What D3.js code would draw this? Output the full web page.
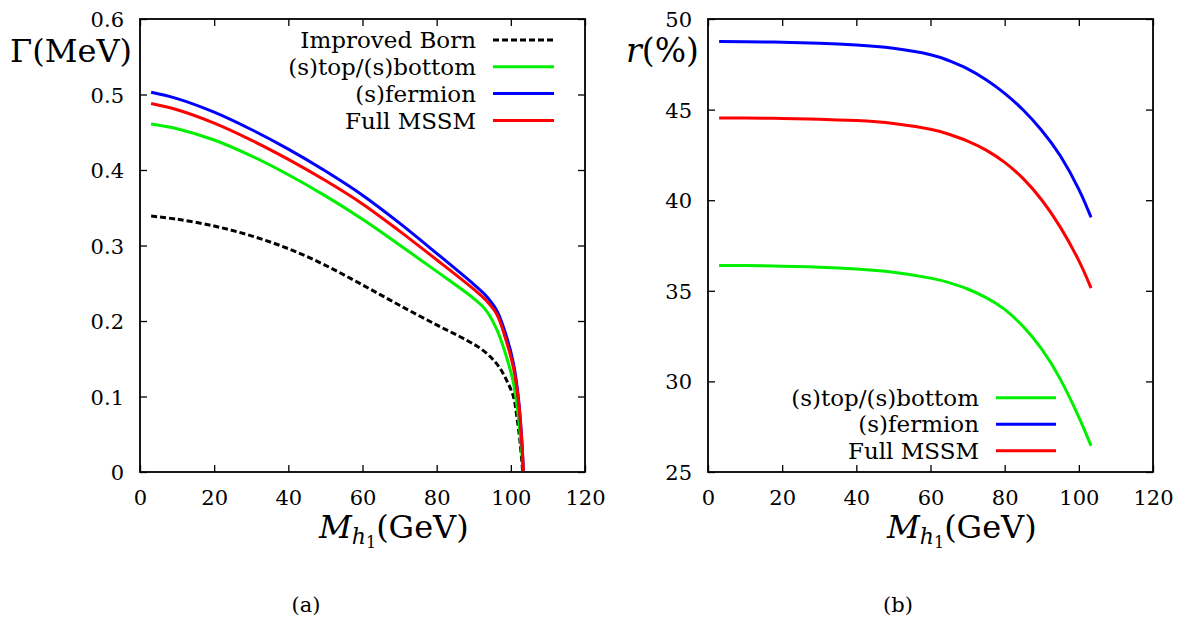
<!DOCTYPE html>
<html>
<head>
<meta charset="utf-8">
<script src="https://cdn.jsdelivr.net/npm/d3@7"></script>
<style>
html,body{margin:0;padding:0;background:#fff;}
svg{display:block;}
</style>
</head>
<body>
<svg id="chart" width="1199" height="624" font-family="DejaVu Serif"></svg>
<script>
// ---------- Panel (a) data : Gamma (MeV) vs M_h1 (GeV) ----------
const massA = [3,10,20,30,40,50,60,70,80,90,93,96.2,98.8,100.7,102,102.9,103.4];
const stopSbottomA = [0.461,0.4547,0.4397,0.4187,0.3937,0.3657,0.3347,0.3007,0.2657,0.2297,0.216,0.189,0.153,0.118,0.074,0.029,0];
const sfermionA    = [0.503,0.4946,0.4766,0.4536,0.4276,0.3986,0.3666,0.3296,0.2896,0.2486,0.235,0.214,0.180,0.144,0.100,0.047,0];
const fullMssmA    = [0.488,0.4798,0.4621,0.4396,0.4141,0.3861,0.3551,0.3191,0.2811,0.2421,0.229,0.209,0.173,0.138,0.097,0.045,0];
const massBorn = [3,10,20,30,40,50,60,70,80,88,92,95,97,99,100.7,101.6,102.5,103.2];
const improvedBorn = [0.339,0.3348,0.3258,0.3128,0.2958,0.2738,0.2478,0.2208,0.1948,0.1748,0.163,0.150,0.138,0.120,0.100,0.074,0.039,0];

// ---------- Panel (b) data : r (%) vs M_h1 (GeV) ----------
const massB = [3,10,20,30,40,50,60,65,70,75,80,85,90,95,100,103.3];
const stopSbottomB = [36.40,36.39,36.36,36.30,36.20,36.02,35.70,35.45,35.10,34.625,33.975,33.025,31.775,30.125,28.025,26.44];
const sfermionB    = [48.76,48.75,48.72,48.66,48.56,48.38,48.03,47.70,47.25,46.65,45.90,44.975,43.85,42.45,40.60,39.05];
const fullMssmB    = [44.54,44.533,44.513,44.473,44.393,44.233,43.913,43.638,43.263,42.763,42.088,41.188,40.013,38.513,36.663,35.145];

// ---------- Ticks ----------
const xTicks = [0,20,40,60,80,100,120];
const yTicksA = [0,0.1,0.2,0.3,0.4,0.5,0.6];
const yTickLabelsA = ["0","0.1","0.2","0.3","0.4","0.5","0.6"];
const yTicksB = [25,30,35,40,45,50];

const legendA = ["Improved Born","(s)top/(s)bottom","(s)fermion","Full MSSM"];
const legendB = ["(s)top/(s)bottom","(s)fermion","Full MSSM"];

const GREEN = "#00f000", BLUE = "#0000ff", RED = "#ff0000", BLACK = "#000";
const FONT = "DejaVu Serif";

const svg = d3.select("#chart");

function panel(opts){
  const g = svg.append("g");
  const x = d3.scaleLinear().domain([0,120]).range([opts.left, opts.right]);
  const y = d3.scaleLinear().domain(opts.yDomain).range([opts.bottom, opts.top]);
  const tick = 7;

  const ax = g.append("g").attr("transform",`translate(0,${opts.bottom})`)
    .call(d3.axisBottom(x).tickValues(xTicks).tickSize(-tick).tickPadding(18).tickFormat(d3.format("d")));
  const axTop = g.append("g").attr("transform",`translate(0,${opts.top})`)
    .call(d3.axisTop(x).tickValues(xTicks).tickSize(-tick).tickFormat(""));
  const ay = g.append("g").attr("transform",`translate(${opts.left},0)`)
    .call(d3.axisLeft(y).tickValues(opts.yTicks).tickSize(-tick).tickPadding(opts.yPad).tickFormat((d,i)=>opts.yLabels[i]));
  const ayR = g.append("g").attr("transform",`translate(${opts.right},0)`)
    .call(d3.axisRight(y).tickValues(opts.yTicks).tickSize(-tick).tickFormat(""));
  [ax,axTop,ay,ayR].forEach(a=>{
    a.attr("font-family",FONT).attr("font-size",21);
    a.select(".domain").remove();
    a.selectAll(".tick line").attr("stroke","#000").attr("stroke-width",1.3);
    a.selectAll("text").attr("fill","#000");
  });
  ax.selectAll("text").attr("dy","0.71em");
  ay.selectAll("text").attr("dy","0.36em");

  g.append("rect").attr("x",opts.left).attr("y",opts.top)
    .attr("width",opts.right-opts.left).attr("height",opts.bottom-opts.top)
    .attr("fill","none").attr("stroke","#000").attr("stroke-width",1.8);

  const clipId = "clip"+opts.id;
  g.append("clipPath").attr("id",clipId).append("rect")
    .attr("x",opts.left).attr("y",opts.top-2).attr("width",opts.right-opts.left).attr("height",opts.bottom-opts.top+1);

  const line = d3.line().x(d=>x(d[0])).y(d=>y(d[1])).curve(opts.curve);
  const cg = g.append("g").attr("clip-path",`url(#${clipId})`);
  opts.series.forEach(s=>{
    cg.append("path").datum(d3.zip(s.x,s.y)).attr("d",line)
      .attr("fill","none").attr("stroke",s.color).attr("stroke-width",3)
      .attr("stroke-dasharray",s.dash||null).attr("stroke-linejoin","round");
  });

  opts.legend.forEach((item,i)=>{
    const ly = opts.legY + i*opts.legStep;
    g.append("text").attr("x",opts.legTextX).attr("y",ly).attr("dy","0.36em")
      .attr("text-anchor","end").attr("font-size",23).text(item.label);
    g.append("line").attr("x1",opts.legX1).attr("x2",opts.legX2).attr("y1",ly).attr("y2",ly)
      .attr("stroke",item.color).attr("stroke-width",3).attr("stroke-dasharray",item.dash||null);
  });

  const xt = g.append("text").attr("x",opts.left+179).attr("y",538)
    .attr("text-anchor","start").attr("font-size",32);
  xt.append("tspan").attr("font-style","italic").text("M");
  xt.append("tspan").attr("font-style","italic").attr("font-size",22).attr("dy",6).text("h");
  xt.append("tspan").attr("font-size",16).attr("dy",4).text("1");
  xt.append("tspan").attr("dy",-10).text("(GeV)");

  g.append("text").attr("x",opts.capX).attr("y",612).attr("text-anchor","middle")
    .attr("font-size",21).text(opts.caption);
  return {x,y,g};
}

const pa = panel({
  id:"a", left:140, right:585, top:19, bottom:472,
  yDomain:[0,0.6], yTicks:yTicksA, yLabels:yTickLabelsA, yPad:16,
  curve:d3.curveCatmullRom.alpha(0.5),
  series:[
    {x:massBorn,y:improvedBorn,color:BLACK,dash:"6,3"},
    {x:massA,y:stopSbottomA,color:GREEN},
    {x:massA,y:sfermionA,color:BLUE},
    {x:massA,y:fullMssmA,color:RED}
  ],
  legend:[
    {label:legendA[0],color:BLACK,dash:"6,3"},
    {label:legendA[1],color:GREEN},
    {label:legendA[2],color:BLUE},
    {label:legendA[3],color:RED}
  ],
  legY:40, legStep:26.8, legTextX:476, legX1:493, legX2:554,
  caption:"(a)", capX:306
});
pa.g.append("text").attr("x",10).attr("y",62).attr("font-size",32).text("Γ(MeV)");

const pb = panel({
  id:"b", left:708, right:1153, top:19, bottom:472,
  yDomain:[25,50], yTicks:yTicksB, yLabels:yTicksB.map(String), yPad:16,
  curve:d3.curveNatural,
  series:[
    {x:massB,y:stopSbottomB,color:GREEN},
    {x:massB,y:sfermionB,color:BLUE},
    {x:massB,y:fullMssmB,color:RED}
  ],
  legend:[
    {label:legendB[0],color:GREEN},
    {label:legendB[1],color:BLUE},
    {label:legendB[2],color:RED}
  ],
  legY:397.7, legStep:26.5, legTextX:979, legX1:996, legX2:1056,
  caption:"(b)", capX:898
});
const tb = pb.g.append("text").attr("x",626).attr("y",62).attr("font-size",33);
tb.append("tspan").attr("font-style","italic").text("r");
tb.append("tspan").text("(%)");
</script>
</body>
</html>
